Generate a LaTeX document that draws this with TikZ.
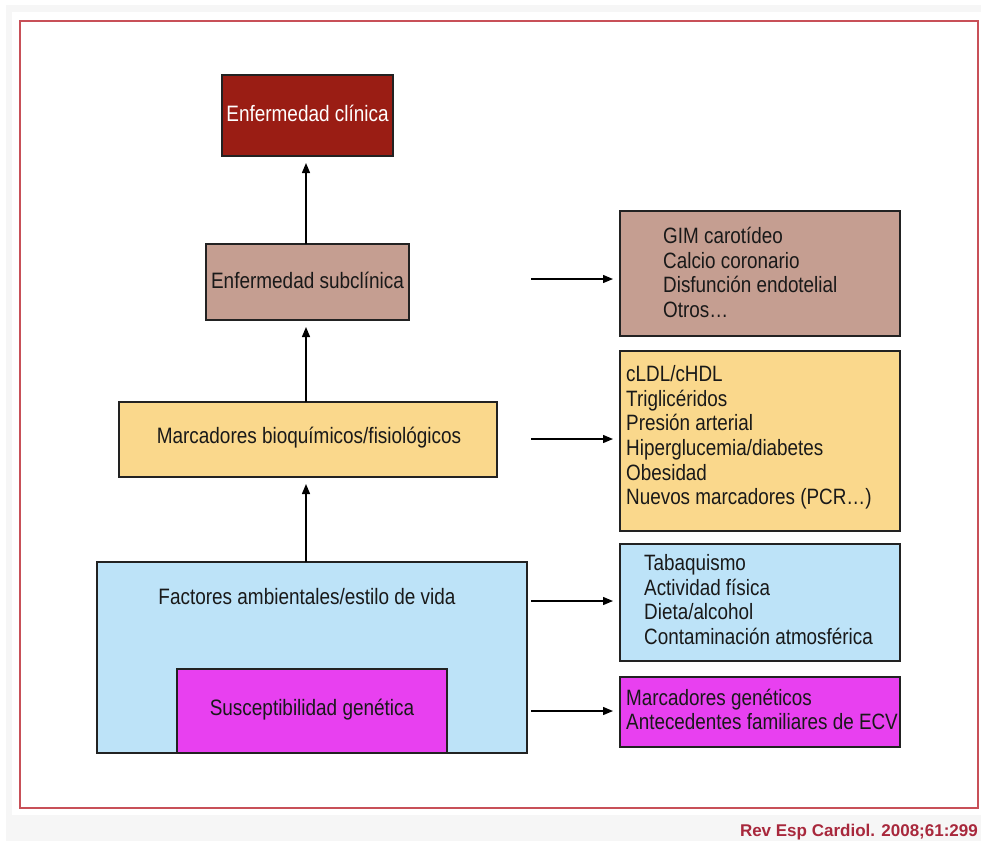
\documentclass[tikz,border=0pt]{standalone}
\usepackage{fontspec}
\setmainfont{Liberation Sans}[FakeStretch=0.85]
\newfontfamily\creditfont{Liberation Sans}
\usetikzlibrary{arrows.meta}
\definecolor{clinred}{HTML}{9A1D14}
\definecolor{subcl}{HTML}{C59E91}
\definecolor{bioyel}{HTML}{FAD88C}
\definecolor{ambblue}{HTML}{BDE3F8}
\definecolor{genmag}{HTML}{E840F0}
\definecolor{frame}{HTML}{C85058}
\definecolor{credit}{HTML}{A8283C}
\definecolor{edge}{HTML}{222222}
\definecolor{outergray}{HTML}{F6F6F6}
\tikzset{
  boxnode/.style={draw=edge, line width=1.5pt, inner sep=0pt, outer sep=0pt},
  lbl/.style={font=\fontsize{22.3}{24.6}\selectfont, inner sep=0pt, text=black!90},
  listlbl/.style={font=\fontsize{22.2}{24.6}\selectfont, inner sep=0pt, align=left, anchor=west, text=black!90},
  arr/.style={draw=black, line width=1.3pt, -{Triangle[length=10pt,width=8pt]}, shorten >=7pt},
}
\begin{document}
\begin{tikzpicture}[x=1pt,y=-1pt]
\useasboundingbox (0,0) rectangle (981,841);
\fill[outergray] (6,5) rectangle (981,841);
\fill[white] (12,12) rectangle (981,815);
\draw[frame, line width=1.6pt] (20,21) rectangle (978,808);

% left column
\node[boxnode, fill=clinred, minimum width=171pt, minimum height=81pt] (clin) at (307.5,115.5) {};
\node[lbl, text=white] (clint) at (307.5,113) {Enfermedad clínica};
\node[boxnode, fill=subcl, minimum width=203pt, minimum height=76pt] (sub) at (307.5,282) {};
\node[lbl] (subt) at (307.5,280) {Enfermedad subclínica};
\node[boxnode, fill=bioyel, minimum width=378pt, minimum height=75pt] (bio) at (308,439.5) {};
\node[lbl] (biot) at (309,438) {Marcadores bioquímicos/fisiológicos};
\node[boxnode, fill=ambblue, minimum width=430pt, minimum height=191pt] (amb) at (312,657.5) {};
\node[lbl] (ambt) at (307,597) {Factores ambientales/estilo de vida};
\node[boxnode, fill=genmag, minimum width=270pt, minimum height=84pt] (gen) at (312,711) {};
\node[lbl] (gent) at (312,710) {Susceptibilidad genética};

% right column
\node[boxnode, fill=subcl, minimum width=280pt, minimum height=125pt] (r1) at (760,273.5) {};
\node[listlbl] (r1t) at (663,272.5) {GIM carotídeo\\Calcio coronario\\Disfunción endotelial\\Otros…};
\node[boxnode, fill=bioyel, minimum width=280pt, minimum height=180pt] (r2) at (760,441) {};
\node[listlbl] (r2t) at (626,437.5) {cLDL/cHDL\\Triglicéridos\\Presión arterial\\Hiperglucemia/diabetes\\Obesidad\\Nuevos marcadores (PCR…)};
\node[boxnode, fill=ambblue, minimum width=280pt, minimum height=117pt] (r3) at (760,602.5) {};
\node[listlbl] (r3t) at (644,599.5) {Tabaquismo\\Actividad física\\Dieta/alcohol\\Contaminación atmosférica};
\node[boxnode, fill=genmag, minimum width=280pt, minimum height=70pt] (r4) at (760,712) {};
\node[listlbl] (r4t) at (626,709.5) {Marcadores genéticos\\Antecedentes familiares de ECV};

% vertical arrows
\draw[arr] (sub.north -| 306,0) -- (clin.south -| 306,0);
\draw[arr] (bio.north -| 306,0) -- (sub.south -| 306,0);
\draw[arr] (amb.north -| 306,0) -- (bio.south -| 306,0);

% horizontal arrows
\coordinate (s1) at (531,279);
\coordinate (s2) at (531,439);
\coordinate (s3) at (531,601);
\coordinate (s4) at (531,711);
\draw[arr] (s1) -- (r1.west |- s1);
\draw[arr] (s2) -- (r2.west |- s2);
\draw[arr] (s3) -- (r3.west |- s3);
\draw[arr] (s4) -- (r4.west |- s4);

\node[anchor=base east, inner sep=0pt, text=credit, font=\creditfont\bfseries\fontsize{17}{17}\selectfont] (cred) at (978,836) {Rev Esp Cardiol. 2008;61:299};
\end{tikzpicture}
\end{document}
